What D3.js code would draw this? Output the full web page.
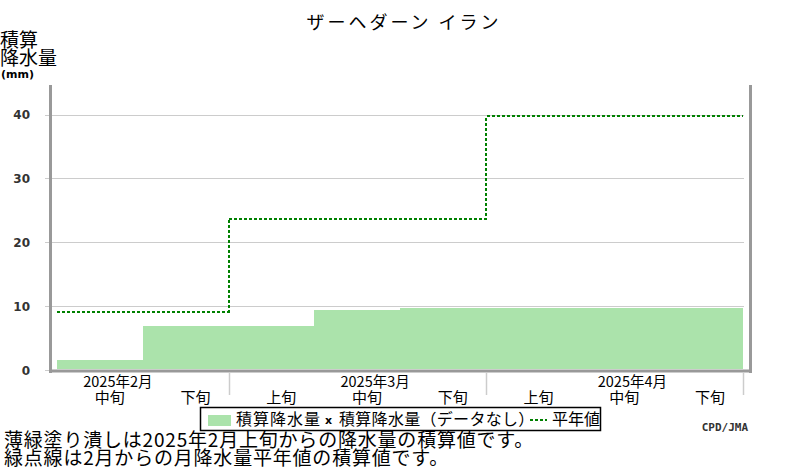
<!DOCTYPE html>
<html><head><meta charset="utf-8">
<script src="https://cdn.jsdelivr.net/npm/d3@7/dist/d3.min.js"></script>
<style>
body{margin:0;background:#fff;}
svg{display:block;}
text{font-family:"Noto Sans CJK JP","Noto Sans",sans-serif;fill:#000;}
</style></head>
<body>
<svg id="c" width="800" height="470"></svg>
<script>
// ---- data ----
const title = "ザーヘダーン イラン";
const dekadLabels = ["中旬","下旬","上旬","中旬","下旬","上旬","中旬","下旬"];
const monthLabels = ["2025年2月","2025年3月","2025年4月"];
const cumPrecip = [1.5, 6.9, 6.9, 9.4, 9.7, 9.7, 9.7, 9.7];   // per dekad, Feb mid -> Apr late
const normalCum = [9.1, 23.6, 39.7];                          // cumulative monthly normals Feb, Mar, Apr
const yTicks = [0, 10, 20, 30, 40];
const legendLabels = ["積算降水量", "積算降水量（データなし）", "平年値"];
const notes = ["薄緑塗り潰しは2025年2月上旬からの降水量の積算値です。", "緑点線は2月からの月降水量平年値の積算値です。"];
const credit = "CPD/JMA";

const svg = d3.select("#c");
// dekad index: 0 = Feb 上旬 ... 8 = Apr 下旬; visible from 1 to 9
const x = d3.scaleLinear().domain([1, 9]).range([57, 743]);
const y = d3.scaleLinear().domain([0, 40]).range([370, 114.5]);

// grid lines
svg.append("g").selectAll("line").data(yTicks).join("line")
  .attr("x1", 45).attr("x2", 744)
  .attr("y1", d => Math.round(y(d)) + 0.5).attr("y2", d => Math.round(y(d)) + 0.5)
  .attr("stroke", "#cccccc").attr("stroke-width", 1);

// y tick labels
svg.append("g").selectAll("text").data(yTicks).join("text")
  .attr("x", 30).attr("y", d => y(d) + 4.5)
  .attr("text-anchor", "end")
  .style("font-family", "'DejaVu Sans',sans-serif").style("font-weight", "bold")
  .style("font-size", "12px").style("fill", "#333")
  .text(d => d);

// bars (cumulative precipitation)
svg.append("g").selectAll("rect").data(cumPrecip).join("rect")
  .attr("x", (d, i) => Math.round(x(i + 1)))
  .attr("width", (d, i) => Math.round(x(i + 2)) - Math.round(x(i + 1)))
  .attr("y", d => Math.round(y(d)))
  .attr("height", d => 369 - Math.round(y(d)))
  .attr("fill", "#abe3ab").attr("shape-rendering", "crispEdges");

// normal step line
const normPts = [];
normalCum.forEach((v, m) => {
  normPts.push([Math.max(1, 3 * m), v]);
});
normPts.push([9, normalCum[normalCum.length - 1]]);
const line = d3.line().x(d => x(d[0])).y(d => y(d[1])).curve(d3.curveStepAfter);
svg.append("path").datum(normPts).attr("d", line)
  .attr("fill", "none").attr("stroke", "#008000").attr("stroke-width", 2)
  .attr("stroke-dasharray", "3,2").attr("shape-rendering", "crispEdges");

// axes frame
svg.append("line").attr("x1", 50.5).attr("x2", 50.5).attr("y1", 85).attr("y2", 373)
  .attr("stroke", "#999").attr("stroke-width", 3);
svg.append("line").attr("x1", 750.5).attr("x2", 750.5).attr("y1", 85).attr("y2", 373)
  .attr("stroke", "#999").attr("stroke-width", 3);
svg.append("line").attr("x1", 49).attr("x2", 752).attr("y1", 371).attr("y2", 371)
  .attr("stroke", "#999").attr("stroke-width", 3);

// x month boundary ticks
svg.append("g").selectAll("line").data([3, 6, 9]).join("line")
  .attr("x1", d => Math.round(x(d)) + 0.5).attr("x2", d => Math.round(x(d)) + 0.5)
  .attr("y1", 373).attr("y2", 395)
  .attr("stroke", "#cccccc").attr("stroke-width", 1.5);

// dekad labels
svg.append("g").selectAll("text").data(dekadLabels).join("text")
  .attr("x", (d, i) => x(i + 1.5) + 10).attr("y", 403)
  .attr("text-anchor", "middle").style("font-size", "15px")
  .text(d => d);

// month labels
svg.append("g").selectAll("text").data(monthLabels).join("text")
  .attr("x", (d, i) => x(3 * i + 1.5) + 18).attr("y", 387)
  .attr("text-anchor", "middle").style("font-size", "14.5px")
  .text(d => d);

// title
svg.append("text").attr("x", 404).attr("y", 29).attr("text-anchor", "middle")
  .style("font-size", "18px").style("letter-spacing", "3px").text(title);

// y axis title
svg.append("text").attr("x", 0).attr("y", 47).style("font-size", "19px").text("積算");
svg.append("text").attr("x", 0).attr("y", 65).style("font-size", "19px").text("降水量");
svg.append("text").attr("x", 1).attr("y", 78)
  .style("font-family", "'DejaVu Sans',sans-serif").style("font-weight", "bold")
  .style("font-size", "11px").text("(mm)");

// legend
const lg = svg.append("g");
lg.append("rect").attr("x", 200.5).attr("y", 407.5).attr("width", 400).attr("height", 23)
  .attr("fill", "#fff").attr("stroke", "#000").attr("stroke-width", 1.5);
lg.append("rect").attr("x", 208).attr("y", 415).attr("width", 23).attr("height", 11).attr("fill", "#abe3ab");
lg.append("text").attr("x", 236).attr("y", 425).style("font-size", "16px").style("letter-spacing", "1px").text(legendLabels[0]);
lg.append("text").attr("x", 325).attr("y", 424)
  .style("font-family", "'DejaVu Sans',sans-serif").style("font-weight", "bold").style("font-size", "11px").text("x");
lg.append("text").attr("x", 339).attr("y", 425).style("font-size", "16px").style("letter-spacing", "0.3px").text(legendLabels[1]);
lg.append("line").attr("x1", 530).attr("x2", 547).attr("y1", 420).attr("y2", 420)
  .attr("stroke", "#008000").attr("stroke-width", 2).attr("stroke-dasharray", "3,2");
lg.append("text").attr("x", 552).attr("y", 425).style("font-size", "16px").text(legendLabels[2]);

// credit
svg.append("text").attr("x", 748).attr("y", 431).attr("text-anchor", "end")
  .style("font-family", "'DejaVu Sans Mono',monospace").style("font-weight", "bold")
  .style("font-size", "11px").style("fill", "#333").text(credit);

// notes
svg.append("g").selectAll("text").data(notes).join("text")
  .attr("x", 4).attr("y", (d, i) => 447 + i * 17.5)
  .style("font-size", "19px").style("letter-spacing", "0.8px").text(d => d);
</script>
</body></html>
